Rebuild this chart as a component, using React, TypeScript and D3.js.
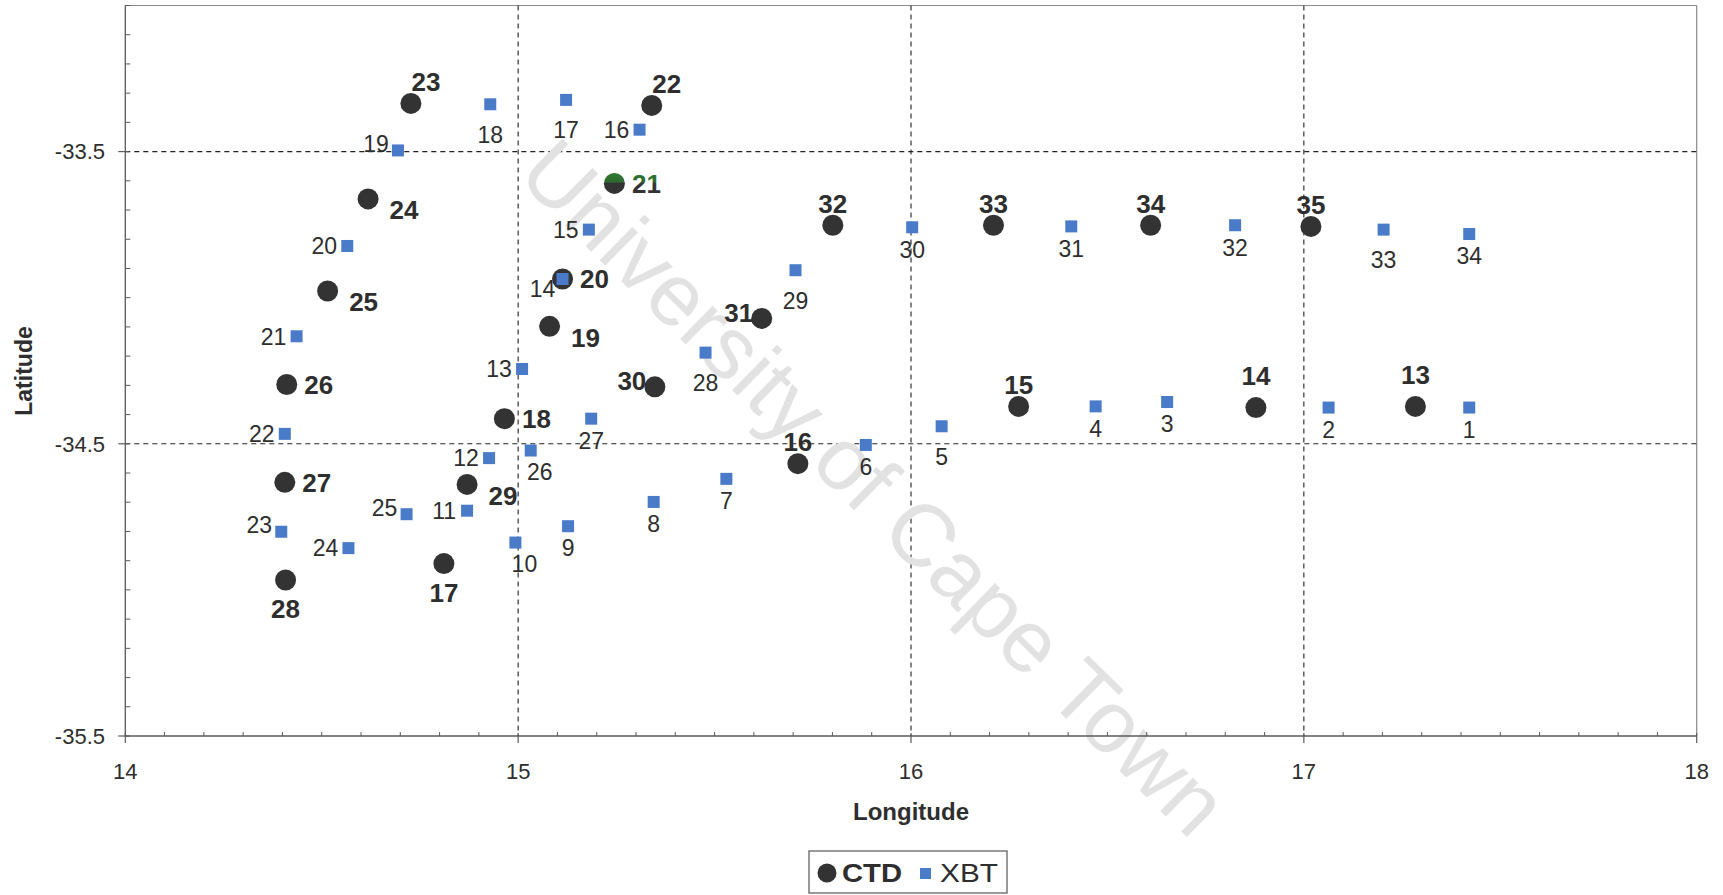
import React, { useEffect } from "react";
import * as d3 from "d3";

const W = 1723;
const H = 895;

// CTD stations (station number, longitude °E, latitude °S as negative)
const ctdStations = [13, 14, 15, 16, 17, 18, 19, 20, 21, 22, 23, 24, 25, 26, 27, 28, 29, 30, 31, 32, 33, 34, 35];
const ctdLon = [17.284, 16.878, 16.274, 15.712, 14.811, 14.965, 15.08, 15.113, 15.245, 15.34, 14.727, 14.618, 14.515, 14.411, 14.406, 14.408, 14.87, 15.348, 15.62, 15.801, 16.21, 16.61, 17.018];
const ctdLat = [-34.372, -34.376, -34.372, -34.568, -34.91, -34.414, -34.098, -33.936, -33.609, -33.342, -33.335, -33.662, -33.977, -34.297, -34.632, -34.966, -34.639, -34.305, -34.071, -33.752, -33.752, -33.752, -33.756];
const ctdLabelSide = ["NN", "NN", "N", "N", "S", "E", "SE", "E", "E", "NE", "NE", "SE", "SE", "E", "E", "S", "SE", "W", "W", "N", "N", "N", "N"];

// XBT drops
const xbtStations = d3.range(1, 35);
const xbtLon = [17.421, 17.063, 16.652, 16.47, 16.078, 15.885, 15.53, 15.345, 15.127, 14.993, 14.87, 14.926, 15.01, 15.113, 15.18, 15.309, 15.122, 14.929, 14.694, 14.565, 14.436, 14.406, 14.397, 14.568, 14.716, 15.032, 15.186, 15.477, 15.706, 16.003, 16.408, 16.825, 17.203, 17.421];
const xbtLat = [-34.376, -34.376, -34.357, -34.372, -34.44, -34.504, -34.62, -34.699, -34.782, -34.838, -34.729, -34.549, -34.244, -33.936, -33.767, -33.425, -33.323, -33.338, -33.496, -33.823, -34.132, -34.466, -34.801, -34.857, -34.741, -34.523, -34.414, -34.188, -33.906, -33.759, -33.756, -33.752, -33.767, -33.782];
const xbtLabelSide = ["S", "S", "S", "S", "SS", "S", "S", "S", "S", "SE", "W", "W", "W", "SW", "W", "W", "SS", "SS", "NW", "W", "W", "W", "NW", "W", "NW", "SE", "S", "SS", "SS", "S", "S", "S", "SS", "S"];

const lonDomain = [14, 18];
const latDomain = [-35.5, -33.0];
const lonTicks = [14, 15, 16, 17, 18];
const latTicks = [-35.5, -34.5, -33.5];
const lonGrid = [15, 16, 17];
const latGrid = [-34.5, -33.5];

// label offsets (text centre relative to marker centre)
const ctdOffsets: Record<string, [number, number]> = {
  N: [0, -22],
  NN: [0, -32],
  NE: [15, -22],
  E: [32, 0],
  SE: [36, 11],
  S: [0, 29],
  W: [-23, -6],
};
const xbtOffsets: Record<string, [number, number]> = {
  S: [0, 22],
  SS: [0, 30],
  SE: [9, 21],
  W: [-23, 0],
  NW: [-22, -7],
  SW: [-20, 10],
};

const FONT = "'Liberation Sans', Arial, sans-serif";
const INK = "#2e2e2e";
const CTD_FILL = "#333333";
const XBT_FILL = "#4a7bc9";

const fmtLat = (v: number) => d3.format(".1f")(v).replace("\u2212", "-");

export default function App() {
  useEffect(() => {
    document.body.style.margin = "0";
    document.body.style.overflow = "hidden";
  }, []);

  const x = d3.scaleLinear().domain(lonDomain).range([125.3, 1696.7]);
  const y = d3.scaleLinear().domain(latDomain).range([736, 5.5]);

  const [x0, x1] = x.range();
  const [y0, y1] = y.range();

  const xMinor = x.ticks(40).filter((v) => !lonTicks.some((t) => Math.abs(t - v) < 1e-6));
  const yMinor = y.ticks(25).filter((v) => !latTicks.some((t) => Math.abs(t - v) < 1e-6));

  const ctd = ctdStations.map((s, i) => ({ s, lon: ctdLon[i], lat: ctdLat[i], side: ctdLabelSide[i] }));
  const xbt = xbtStations.map((s, i) => ({ s, lon: xbtLon[i], lat: xbtLat[i], side: xbtLabelSide[i] }));
  const sq = 12;

  return (
    <svg width={W} height={H} style={{ display: "block", background: "#fff" }} fontFamily={FONT}>
      <defs>
        <linearGradient id="greenTop" x1="0" y1="0" x2="0" y2="1">
          <stop offset="0" stopColor="#2f7a2f" />
          <stop offset="0.42" stopColor="#2f6a2f" />
          <stop offset="0.5" stopColor="#333333" />
          <stop offset="1" stopColor="#333333" />
        </linearGradient>
      </defs>

      {/* plot frame */}
      <line x1={x0} x2={x1} y1={y1} y2={y1} stroke="#8a8a8a" strokeWidth={1.2} />
      <line x1={x1} x2={x1} y1={y1} y2={y0} stroke="#8a8a8a" strokeWidth={1.2} />

      {/* dashed gridlines */}
      {lonGrid.map((v) => (
        <line key={"gx" + v} x1={x(v)} x2={x(v)} y1={y1} y2={y0} stroke="#222" strokeWidth={1.1} strokeDasharray="5,4" />
      ))}
      {latGrid.map((v) => (
        <line key={"gy" + v} x1={x0} x2={x1} y1={y(v)} y2={y(v)} stroke="#222" strokeWidth={1.1} strokeDasharray="5,4" />
      ))}

      {/* watermark */}
      <text
        x={0}
        y={0}
        transform="translate(853,509) rotate(44.5)"
        textAnchor="middle"
        fontSize={88}
        fill="#e2e2e2"
        fontFamily={FONT}
      >
        University of Cape Town
      </text>

      {/* axes */}
      <line x1={x0} x2={x0} y1={y1} y2={y0} stroke="#5a5a5a" strokeWidth={1.3} />
      <line x1={x0} x2={x1} y1={y0} y2={y0} stroke="#5a5a5a" strokeWidth={1.3} />
      {xMinor.map((v) => (
        <line key={"xm" + v} x1={x(v)} x2={x(v)} y1={y0} y2={y0 - 4} stroke="#5a5a5a" strokeWidth={1} />
      ))}
      {lonTicks.map((v) => (
        <line key={"xM" + v} x1={x(v)} x2={x(v)} y1={y0 - 3} y2={y0 + 7} stroke="#5a5a5a" strokeWidth={1.2} />
      ))}
      {yMinor.map((v) => (
        <line key={"ym" + v} x1={x0} x2={x0 + 5} y1={y(v)} y2={y(v)} stroke="#5a5a5a" strokeWidth={1} />
      ))}
      {latTicks.map((v) => (
        <line key={"yM" + v} x1={x0 - 7} x2={x0 + 4} y1={y(v)} y2={y(v)} stroke="#5a5a5a" strokeWidth={1.2} />
      ))}

      {lonTicks.map((v) => (
        <text key={"xl" + v} x={x(v)} y={779} textAnchor="middle" fontSize={22} fill={INK}>
          {d3.format("d")(v)}
        </text>
      ))}
      {latTicks.map((v) => (
        <text key={"yl" + v} x={105} y={y(v)} dy="0.35em" textAnchor="end" fontSize={22} fill={INK}>
          {fmtLat(v)}
        </text>
      ))}

      <text x={(x0 + x1) / 2} y={820} textAnchor="middle" fontSize={24} fontWeight="bold" fill={INK}>
        Longitude
      </text>
      <text transform="translate(32,371) rotate(-90)" textAnchor="middle" fontSize={23} fontWeight="bold" fill={INK}>
        Latitude
      </text>

      {/* CTD stations */}
      {ctd.map((d) => (
        <circle
          key={"c" + d.s}
          cx={x(d.lon)}
          cy={y(d.lat)}
          r={10.5}
          fill={d.s === 21 ? "url(#greenTop)" : CTD_FILL}
        />
      ))}

      {/* XBT drops */}
      {xbt.map((d) => (
        <rect key={"b" + d.s} x={x(d.lon) - sq / 2} y={y(d.lat) - sq / 2} width={sq} height={sq} fill={XBT_FILL} />
      ))}

      {ctd.map((d) => {
        const [dx, dy] = ctdOffsets[d.side];
        return (
          <text
            key={"cl" + d.s}
            x={x(d.lon) + dx}
            y={y(d.lat) + dy}
            dy="0.36em"
            textAnchor="middle"
            fontSize={26}
            fontWeight="bold"
            fill={d.s === 21 ? "url(#greenTop)" : INK}
          >
            {d.s}
          </text>
        );
      })}
      {xbt.map((d) => {
        const [dx, dy] = xbtOffsets[d.side];
        return (
          <text key={"bl" + d.s} x={x(d.lon) + dx} y={y(d.lat) + dy} dy="0.36em" textAnchor="middle" fontSize={23} fill={INK}>
            {d.s}
          </text>
        );
      })}

      {/* legend */}
      <g>
        <rect x={809} y={851} width={198} height={42} fill="#fff" stroke="#555" strokeWidth={1.2} />
        <circle cx={827} cy={873} r={9.5} fill={CTD_FILL} />
        <text x={842} y={882} fontSize={25} fontWeight="bold" fill={INK} textLength={60} lengthAdjust="spacingAndGlyphs">
          CTD
        </text>
        <rect x={920} y={868} width={11} height={11} fill={XBT_FILL} />
        <text x={940} y={882} fontSize={25} fill={INK} textLength={58} lengthAdjust="spacingAndGlyphs">
          XBT
        </text>
      </g>
    </svg>
  );
}
